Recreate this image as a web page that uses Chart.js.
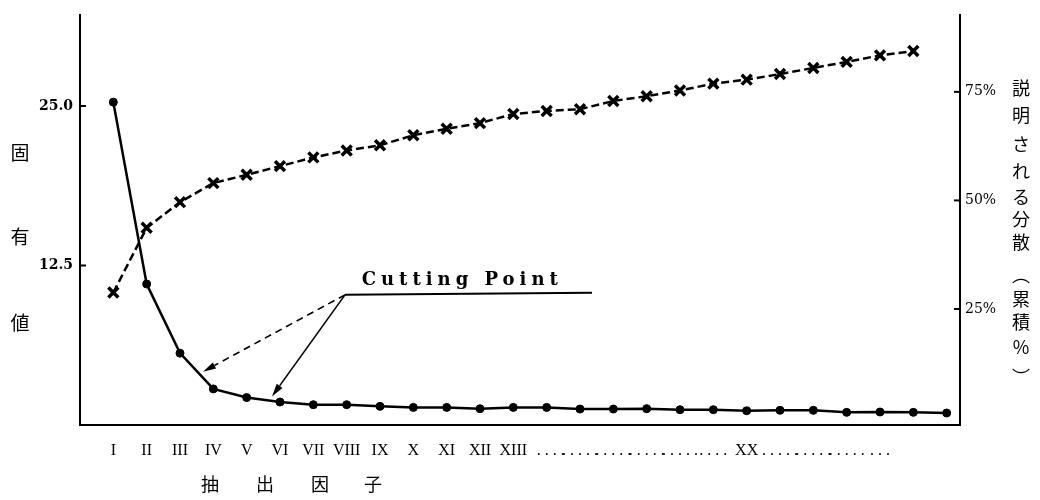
<!DOCTYPE html>
<html><head><meta charset="utf-8">
<script src="https://cdn.jsdelivr.net/npm/chart.js@4.4.1/dist/chart.umd.min.js"></script>
<style>html,body{margin:0;padding:0;background:#fff;}#wrap{width:1040px;height:500px;}</style>
</head><body><div id="wrap"><canvas id="c" width="1040" height="500"></canvas></div>
<script>
// ---- data ----
const factorLabels = ['I','II','III','IV','V','VI','VII','VIII','IX','X','XI','XII','XIII',
  '  . . . .','. . . . .','. . . . .','. . . . .','. . . . .','. . . .','XX',
  '. . . . .','. . . . .','. . . . .','. . .','',''];
const eigenvalues = [25.3, 11.05, 5.63, 2.83, 2.15, 1.80, 1.59, 1.59, 1.46, 1.38, 1.38, 1.28, 1.38,
  1.38, 1.25, 1.25, 1.28, 1.20, 1.20, 1.12, 1.15, 1.15, 0.99, 1.02, 0.99, 0.94];
const cumulativePct = [28.8, 43.7, 49.6, 54.0, 55.9, 57.9, 59.9, 61.5, 62.7, 65.0, 66.5, 67.8, 69.9,
  70.6, 71.0, 72.9, 74.0, 75.3, 76.9, 77.8, 79.1, 80.5, 81.9, 83.4, 84.4];
const leftTicks = [12.5, 25.0];
const rightTicks = [25, 50, 75];
const leftTitle = ['固','有','値'];
const rightTitle = ['説','明','さ','れ','る','分','散','︵','累','積','%','︶'];
const bottomTitle = ['抽','出','因','子'];
const cuttingLabel = 'Cutting Point';
// annotation anchors in data units (x = factor index, y = eigenvalue)
const cutOrigin = {x: 6.95, y: 10.2};
const cutLineEndX = 14.36;
const cutLabelAt = {x: 7.45, y: 11.0};
const cutTargets = [{x: 2.69, y: 4.18, dashed: true}, {x: 4.76, y: 2.24, dashed: false}];

// ---- layout (pixels) ----
const leftTitleY = [153, 237, 323];
const rightTitleY = [88, 115, 144, 171, 197, 219, 242, 275, 299, 322, 347, 377];
const bottomTitleX = [210, 265, 320, 373];

function arrow(ctx, x0, y0, x1, y1, dashed) {
  const ang = Math.atan2(y1 - y0, x1 - x0);
  const hl = 13, hw = 3.5;
  const bx = x1 - hl * Math.cos(ang), by = y1 - hl * Math.sin(ang);
  ctx.save();
  ctx.strokeStyle = '#000'; ctx.fillStyle = '#000'; ctx.lineWidth = 1.6;
  ctx.setLineDash(dashed ? [7, 5] : []);
  ctx.beginPath(); ctx.moveTo(x0, y0); ctx.lineTo(bx, by); ctx.stroke();
  ctx.setLineDash([]);
  ctx.beginPath();
  ctx.moveTo(x1, y1);
  ctx.lineTo(bx + hw * Math.sin(ang), by - hw * Math.cos(ang));
  ctx.lineTo(bx - hw * Math.sin(ang), by + hw * Math.cos(ang));
  ctx.closePath(); ctx.fill();
  ctx.restore();
}

const annot = {
  id: 'annot',
  afterDraw(chart) {
    const ctx = chart.ctx, xs = chart.scales.x, ys = chart.scales.y, y2 = chart.scales.y2;
    const area = chart.chartArea;
    ctx.save();
    ctx.strokeStyle = '#000'; ctx.lineWidth = 2;
    leftTicks.forEach(v => { const p = ys.getPixelForValue(v); ctx.beginPath(); ctx.moveTo(area.left, p); ctx.lineTo(area.left + 6, p); ctx.stroke(); });
    rightTicks.forEach(v => { const p = y2.getPixelForValue(v); ctx.beginPath(); ctx.moveTo(area.right, p); ctx.lineTo(area.right - 6, p); ctx.stroke(); });
    // titles
    ctx.fillStyle = '#000'; ctx.textAlign = 'center'; ctx.textBaseline = 'middle';
    ctx.font = '19px "Noto Sans CJK JP"';
    leftTitle.forEach((c, i) => ctx.fillText(c, 20, leftTitleY[i]));
    ctx.font = '18px "Noto Sans CJK JP"';
    rightTitle.forEach((c, i) => ctx.fillText(c, 1021, rightTitleY[i]));
    ctx.font = '18px "Noto Sans CJK JP"';
    bottomTitle.forEach((c, i) => ctx.fillText(c, bottomTitleX[i], 484));
    // cutting point
    const ox = xs.getPixelForValue(cutOrigin.x), oy = ys.getPixelForValue(cutOrigin.y);
    ctx.lineWidth = 2;
    ctx.beginPath(); ctx.moveTo(ox, oy); ctx.lineTo(xs.getPixelForValue(cutLineEndX), oy - 2); ctx.stroke();
    ctx.textAlign = 'left'; ctx.textBaseline = 'alphabetic';
    ctx.font = 'bold 18px "DejaVu Serif"';
    ctx.letterSpacing = '5px';
    ctx.fillText(cuttingLabel, xs.getPixelForValue(cutLabelAt.x), ys.getPixelForValue(cutLabelAt.y));
    ctx.letterSpacing = '0px';
    cutTargets.forEach(t => arrow(ctx, ox, oy, xs.getPixelForValue(t.x), ys.getPixelForValue(t.y), t.dashed));
    ctx.restore();
  }
};

new Chart(document.getElementById('c').getContext('2d'), {
  type: 'line',
  data: {
    datasets: [
      { label: '固有値', yAxisID: 'y', data: eigenvalues.map((v, i) => ({x: i, y: v})),
        borderColor: '#000', borderWidth: 2.5, tension: 0, fill: false,
        pointRadius: 4, pointBackgroundColor: '#000', pointBorderColor: '#000', pointBorderWidth: 1 },
      { label: '説明される分散（累積%）', yAxisID: 'y2', data: cumulativePct.map((v, i) => ({x: i, y: v})),
        borderColor: '#000', borderWidth: 2.5, borderDash: [8, 4], tension: 0, fill: false,
        pointStyle: 'crossRot', pointRadius: 7, pointBorderWidth: 3.5, pointBorderColor: '#000', pointBackgroundColor: '#000' }
    ]
  },
  options: {
    responsive: false, animation: false, devicePixelRatio: 1,
    layout: {padding: {top: 10, left: 0, right: 0, bottom: 0}},
    plugins: {legend: {display: false}, tooltip: {enabled: false}},
    scales: {
      x: { type: 'linear', min: -1, max: 25.4,
        afterBuildTicks: a => { a.ticks = factorLabels.map((_, i) => ({value: i})); },
        afterFit: s => { s.height = 75; },
        grid: {display: false, drawTicks: false},
        border: {display: true, color: '#000', width: 2},
        ticks: { autoSkip: false, maxRotation: 0, minRotation: 0, padding: 16, color: '#000',
          font: {family: 'Liberation Serif', size: 16},
          callback: v => factorLabels[v] ?? '' } },
      y: { position: 'left', min: 0, max: 32.1,
        afterBuildTicks: a => { a.ticks = leftTicks.map(v => ({value: v})); },
        afterFit: s => { s.width = 80; },
        grid: {display: false, drawTicks: false},
        border: {display: true, color: '#000', width: 2},
        ticks: { padding: 7, color: '#000', font: {family: 'DejaVu Serif', size: 14, weight: 'bold'},
          callback: v => v.toFixed(1) } },
      y2: { position: 'right', min: -1.7, max: 92.6,
        afterBuildTicks: a => { a.ticks = rightTicks.map(v => ({value: v})); },
        afterFit: s => { s.width = 80; },
        grid: {display: false, drawTicks: false},
        border: {display: true, color: '#000', width: 2, dash: [12, 5]},
        ticks: { padding: 5, color: '#000', font: {family: 'DejaVu Serif', size: 14},
          callback: v => v + '%' } }
    }
  },
  plugins: [annot]
});
</script></body></html>
